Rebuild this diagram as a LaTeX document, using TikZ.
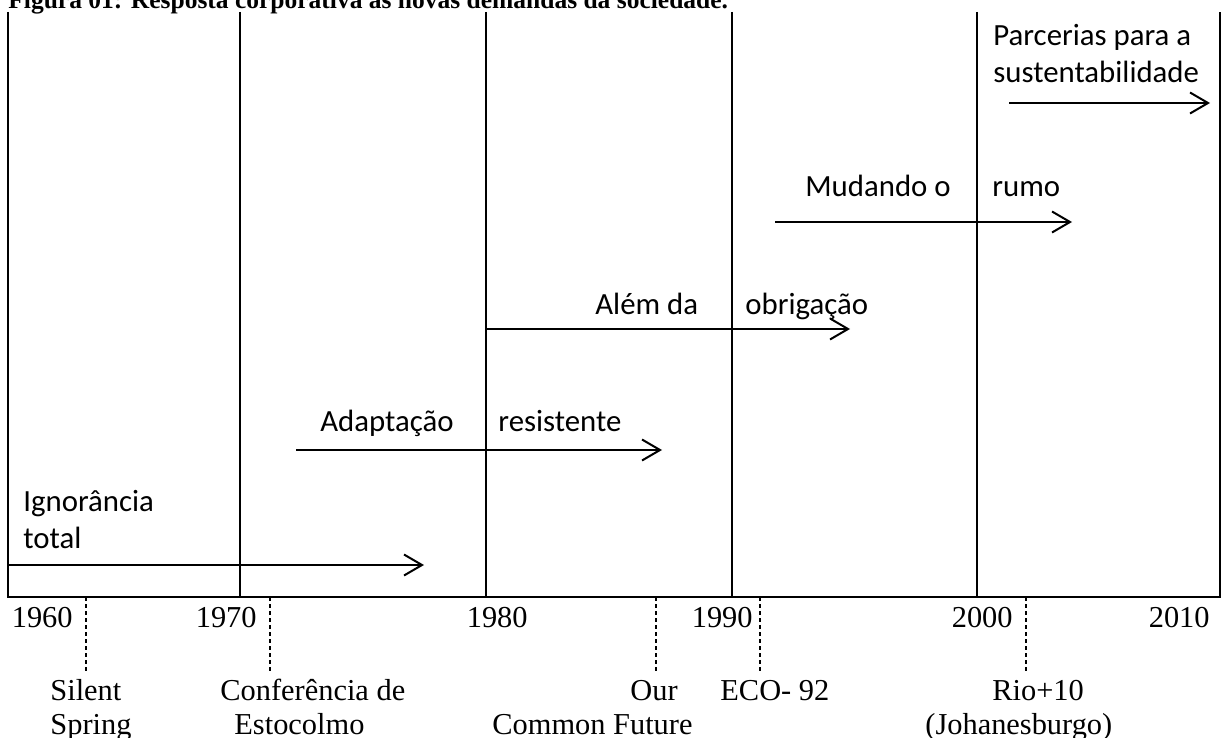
\documentclass[tikz,border=0pt]{standalone}
\usepackage{fontspec}
\setmainfont{Liberation Serif}
\newfontfamily\calibri{Carlito}
\usetikzlibrary{arrows.meta}

\begin{document}
\begin{tikzpicture}[x=0.5pt, y=-0.5pt,
    frame/.style={line width=1pt},
    phase/.style={line width=1pt, -{Straight Barb[length=9pt, width=10.5pt, line width=1pt]}},
    event/.style={line width=0.6pt, dash pattern=on 2pt off 1.5pt},
    lbl/.style={inner sep=0pt, anchor=base west, font=\calibri\fontsize{15.4}{18}\selectfont},
    yr/.style={inner sep=0pt, anchor=base east, font=\fontsize{15.2}{18}\selectfont},
    ev/.style={inner sep=0pt, anchor=base west, font=\fontsize{15.2}{18}\selectfont}]
    \useasboundingbox (0,0) rectangle (1225,738);

    % title, cut at the top of the page
    \node[inner sep=0pt, anchor=base west, font=\bfseries\fontsize{12.75}{16}\selectfont] (title) at (8,9)
      {Figura 01: Resposta corporativa às novas demandas da sociedade.};

    % frame and decade lines
    \coordinate (tl) at (8,12);
    \coordinate (bl) at (8,597);
    \coordinate (br) at (1220,597);
    \coordinate (tr) at (1220,12);
    \draw[frame] (tl) -- (bl) -- (br) -- (tr);
    \foreach \x/\n in {240/d70, 486/d80, 732/d90, 977/d00} {
      \coordinate (\n top) at (\x,12);
      \coordinate (\n bot) at (\x,597);
      \draw[frame] (\n top) -- (\n bot);
    }

    % years
    \node[yr] (y60) at (73,627) {1960};
    \node[yr] (y70) at (257,627) {1970};
    \node[yr] (y80) at (528,627) {1980};
    \node[yr] (y90) at (753,627) {1990};
    \node[yr] (y00) at (1013,627) {2000};
    \node[yr] (y10) at (1210,627) {2010};

    % events
    \foreach \x/\n in {86/ss, 270/ce, 656/ocf, 760/eco, 1026/rio} {
      \coordinate (\n a) at (\x,597);
      \coordinate (\n b) at (\x,673);
      \draw[event] (\n a) -- (\n b);
    }
    \node[ev] (silent) at (50,700) {Silent};
    \node[ev] (spring) at (50,734) {Spring};
    \node[ev] (conf) at (220,700) {Conferência de};
    \node[ev] (esto) at (234,734) {Estocolmo};
    \node[ev] (our) at (630,700) {Our};
    \node[ev] (common) at (492,734) {Common Future};
    \node[ev] (eco) at (720,700) {ECO- 92};
    \node[ev] (rio) at (992,700) {Rio+10};
    \node[ev] (joh) at (925,734) {(Johanesburgo)};

    % phases
    \coordinate (p1a) at (8,565);    \coordinate (p1b) at (424,565);
    \coordinate (p2a) at (296,450);  \coordinate (p2b) at (662,450);
    \coordinate (p3a) at (486,329);  \coordinate (p3b) at (850,329);
    \coordinate (p4a) at (775,222);  \coordinate (p4b) at (1072,222);
    \coordinate (p5a) at (1009,103); \coordinate (p5b) at (1210,103);
    \draw[phase] (p1a) -- (p1b);
    \draw[phase] (p2a) -- (p2b);
    \draw[phase] (p3a) -- (p3b);
    \draw[phase] (p4a) -- (p4b);
    \draw[phase] (p5a) -- (p5b);

    \node[lbl] (ign) at (23,511) {Ignorância};
    \node[lbl] (tot) at (23,548) {total};
    \node[lbl] (adap) at (320,431) {Adaptação};
    \node[lbl] (resi) at (498,431) {resistente};
    \node[lbl] (alem) at (595,314) {Além da};
    \node[lbl] (obri) at (745,314) {obrigação};
    \node[lbl] (muda) at (805,196) {Mudando o};
    \node[lbl] (rumo) at (992,196) {rumo};
    \node[lbl] (parc) at (993,46) {Parcerias para a};
    \node[lbl] (sust) at (993,83) {sustentabilidade};
  \end{tikzpicture}
\end{document}
